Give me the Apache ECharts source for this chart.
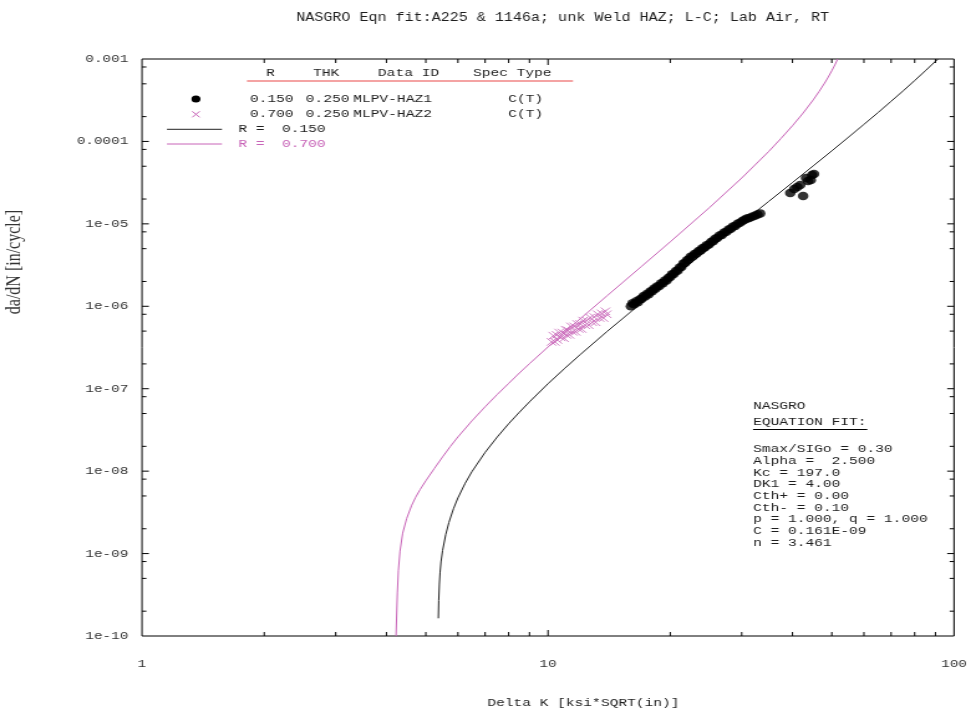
<!DOCTYPE html>
<html>
<head>
<meta charset="utf-8">
<script src="https://cdn.jsdelivr.net/npm/echarts@6/dist/echarts.min.js"></script>
<style>
  html, body { margin: 0; padding: 0; background: #fff; overflow: hidden; }
  /* the plot is laid out on a 780px canvas and widened to 971px, giving the stretched monospace look */
  #chart { width: 780px; height: 713px; transform: scaleX(1.244872); transform-origin: 0 0; }
</style>
</head>
<body>
<div id="chart"></div>
<script>
// ---- axis ranges and tick values ----
const X_MIN = 1, X_MAX = 100;
const Y_MIN = 1e-10, Y_MAX = 1e-3;
const xMajorTicks = [10];
const xMinorTicks = [2, 3, 4, 5, 6, 7, 8, 9, 20, 30, 40, 50, 60, 70, 80, 90];
const yMajorTicks = [1e-9, 1e-8, 1e-7, 1e-6, 1e-5, 1e-4];
const yMinorTicks = [2e-10, 5e-10, 8e-10, 2e-9, 5e-9, 8e-9, 2e-8, 5e-8, 8e-8,
  2e-7, 5e-7, 8e-7, 2e-6, 5e-6, 8e-6, 2e-5, 5e-5, 8e-5, 2e-4, 5e-4, 8e-4];

// ---- NASGRO fit curves ----
const fitR015DeltaK = [5.369, 5.38, 5.40, 5.42, 5.45, 5.5, 5.6, 5.7, 5.85, 6, 6.25, 6.5, 7, 7.5, 8, 8.5, 9,
  10, 11, 12, 14, 17, 20, 25, 30, 35, 40, 45, 50, 55, 60, 65, 70, 75, 80, 85, 90, 91.3];
const fitR015Rate = [1.64e-10, 2.7e-10, 4.27e-10, 5.83e-10, 7.91e-10, 1.09e-9, 1.71e-9, 2.38e-9, 3.50e-9,
  4.74e-9, 7.12e-9, 9.92e-9, 1.69e-8, 2.60e-8, 3.76e-8, 5.18e-8, 6.92e-8, 1.15e-7, 1.77e-7, 2.59e-7,
  4.98e-7, 1.10e-6, 2.11e-6, 5.07e-6, 1.03e-5, 1.88e-5, 3.17e-5, 5.05e-5, 7.68e-5, 1.13e-4, 1.61e-4,
  2.24e-4, 3.07e-4, 4.12e-4, 5.48e-4, 7.20e-4, 9.37e-4, 1.0e-3];

const fitR070DeltaK = [4.223, 4.255, 4.279, 4.32, 4.386, 4.487, 4.617, 4.72, 4.839, 5.0, 5.25, 5.5, 5.75,
  6, 6.5, 7, 7.5, 8, 8.5, 9, 10, 11, 12, 14, 17, 20, 25, 30, 35, 37.5, 40, 42.5, 45, 46.5, 48, 49, 50,
  51, 51.7];
const fitR070Rate = [1.0e-10, 3.33e-10, 6.18e-10, 1.07e-9, 1.77e-9, 2.67e-9, 3.86e-9, 4.82e-9, 5.96e-9,
  7.64e-9, 1.08e-8, 1.49e-8, 2.0e-8, 2.6e-8, 4.09e-8, 6.04e-8, 8.53e-8, 1.16e-7, 1.55e-7, 2.01e-7,
  3.21e-7, 4.86e-7, 7.05e-7, 1.35e-6, 3.05e-6, 6.05e-6, 1.58e-5, 3.60e-5, 7.59e-5, 1.09e-4, 1.55e-4,
  2.21e-4, 3.19e-4, 4.02e-4, 5.10e-4, 6.03e-4, 7.20e-4, 8.68e-4, 1.0e-3];

// ---- test data: MLPV-HAZ1 (R = 0.150) ----
const haz1DeltaK = [16.0, 16.15, 16.3, 16.5, 16.65, 16.85, 17.0, 17.2, 17.35, 17.55, 17.7, 17.9, 18.05,
  18.25, 18.4, 18.6, 18.8, 19.0, 19.2, 19.4, 19.6, 19.8, 20.0, 20.2, 20.4, 20.65, 20.85, 21.1, 21.3,
  21.55, 21.75, 22.0, 22.2, 22.45, 22.7, 22.95, 23.2, 23.5, 23.75, 24.0, 24.3, 24.6, 24.9, 25.2, 25.5,
  25.8, 26.1, 26.45, 26.8, 27.15, 27.5, 27.85, 28.2, 28.55, 28.9, 29.3, 29.7, 30.1, 30.5, 30.9, 31.3,
  31.8, 32.3, 32.8, 33.3, 39.5, 40.4, 41.1, 41.8, 42.5, 43.2, 43.7, 44.4, 44.7, 45.2];
const haz1Rate = [1.00e-6, 1.09e-6, 1.06e-6, 1.15e-6, 1.12e-6, 1.22e-6, 1.23e-6, 1.33e-6, 1.31e-6,
  1.42e-6, 1.40e-6, 1.52e-6, 1.52e-6, 1.64e-6, 1.63e-6, 1.75e-6, 1.76e-6, 1.90e-6, 1.91e-6, 2.06e-6,
  2.06e-6, 2.22e-6, 2.26e-6, 2.45e-6, 2.46e-6, 2.68e-6, 2.70e-6, 2.95e-6, 3.00e-6, 3.30e-6, 3.35e-6,
  3.62e-6, 3.70e-6, 3.98e-6, 4.02e-6, 4.30e-6, 4.38e-6, 4.70e-6, 4.75e-6, 5.05e-6, 5.15e-6, 5.52e-6,
  5.60e-6, 6.02e-6, 6.15e-6, 6.60e-6, 6.72e-6, 7.20e-6, 7.35e-6, 7.85e-6, 8.00e-6, 8.55e-6, 8.70e-6,
  9.30e-6, 9.45e-6, 1.00e-5, 1.03e-5, 1.08e-5, 1.12e-5, 1.16e-5, 1.18e-5, 1.22e-5, 1.25e-5, 1.30e-5,
  1.34e-5, 2.37e-5, 2.65e-5, 2.80e-5, 2.96e-5, 2.18e-5, 3.60e-5, 3.31e-5, 3.40e-5, 3.92e-5, 4.03e-5];

// ---- test data: MLPV-HAZ2 (R = 0.700) ----
const haz2DeltaK = [10.2, 10.3, 10.4, 10.5, 10.55, 10.65, 10.75, 10.85, 10.95, 11.05, 11.1, 11.2, 11.3,
  11.4, 11.5, 11.6, 11.7, 11.8, 11.9, 12.0, 12.1, 12.2, 12.35, 12.45, 12.6, 12.7, 12.85, 13.0, 13.1,
  13.25, 13.4, 13.55, 13.7, 13.85, 13.95];
const haz2Rate = [3.7e-7, 4.4e-7, 3.7e-7, 4.5e-7, 3.9e-7, 4.8e-7, 4.2e-7, 4.8e-7, 4.1e-7, 5.2e-7, 4.5e-7,
  5.1e-7, 4.5e-7, 5.7e-7, 4.9e-7, 5.7e-7, 4.9e-7, 6.1e-7, 5.3e-7, 6.1e-7, 5.3e-7, 6.7e-7, 5.9e-7, 6.7e-7,
  5.9e-7, 7.3e-7, 6.4e-7, 7.4e-7, 6.4e-7, 8.0e-7, 7.2e-7, 8.2e-7, 7.2e-7, 8.7e-7, 8.0e-7];

// ---- text blocks ----
const titleText = 'NASGRO Eqn fit:A225 & 1146a; unk Weld HAZ; L-C; Lab Air, RT';
const legendHeader = ['R', 'THK', 'Data ID', 'Spec Type'];
const legendRows = [
  ['0.150', '0.250', 'MLPV-HAZ1', 'C(T)'],
  ['0.700', '0.250', 'MLPV-HAZ2', 'C(T)']
];
const fitLabels = ['R =  0.150', 'R =  0.700'];
const fitNotes = ['Smax/SIGo = 0.30', 'Alpha =  2.500', 'Kc = 197.0', 'DK1 = 4.00', 'Cth+ = 0.00',
  'Cth- = 0.10', 'p = 1.000, q = 1.000', 'C = 0.161E-09', 'n = 3.461'];

const zip = (a, b) => a.map((v, i) => [v, b[i]]);

const MONO = '"Liberation Mono", "Courier New", monospace';
const INK = '#1e1e1e';
const PINK = '#c864b8';
const SALMON = '#f08585';

function monoText(x, y, text, color, size) {
  return { type: 'text', x: x, y: y, silent: true,
    style: { text: text, fill: color || INK, font: (size || 11.7) + 'px ' + MONO,
      align: 'left', verticalAlign: 'middle' } };
}

// inward tick marks on both opposite sides of the frame
function xTickSeries(values, len) {
  return {
    type: 'custom', silent: true, z: 5,
    data: values.map(v => [v, Y_MIN]),
    renderItem: function (params, api) {
      const v = api.value(0);
      const b = api.coord([v, Y_MIN]);
      const t = api.coord([v, Y_MAX]);
      const st = { stroke: '#000', lineWidth: 1 };
      return { type: 'group', children: [
        { type: 'line', shape: { x1: b[0], y1: b[1], x2: b[0], y2: b[1] - len }, style: st },
        { type: 'line', shape: { x1: t[0], y1: t[1], x2: t[0], y2: t[1] + len }, style: st }
      ] };
    }
  };
}
function yTickSeries(values, len) {
  return {
    type: 'custom', silent: true, z: 5,
    data: values.map(v => [X_MIN, v]),
    renderItem: function (params, api) {
      const v = api.value(1);
      const l = api.coord([X_MIN, v]);
      const r = api.coord([X_MAX, v]);
      const st = { stroke: '#000', lineWidth: 1 };
      return { type: 'group', children: [
        { type: 'line', shape: { x1: l[0], y1: l[1], x2: l[0] + len, y2: l[1] }, style: st },
        { type: 'line', shape: { x1: r[0], y1: r[1], x2: r[0] - len, y2: r[1] }, style: st }
      ] };
    }
  };
}

const chart = echarts.init(document.getElementById('chart'), null, { renderer: 'canvas' });

const graphics = [];
// legend table header
const headerX = [213.7, 251.4, 303.6, 380.0];
legendHeader.forEach((t, i) => graphics.push(monoText(headerX[i], 73, t)));
graphics.push({ type: 'line', silent: true, shape: { x1: 198.4, y1: 81, x2: 460.3, y2: 81 },
  style: { stroke: SALMON, lineWidth: 1.3 } });
// legend rows
const colX = [200.8, 245.6, 283.8, 408.3];
const rowY = [99, 114.3];
legendRows.forEach((row, r) => row.forEach((t, c) => graphics.push(monoText(colX[c], rowY[r], t))));
graphics.push({ type: 'circle', silent: true, shape: { cx: 157.4, cy: 99, r: 3.6 }, style: { fill: '#000' } });
graphics.push({ type: 'line', silent: true, shape: { x1: 154.4, y1: 111.3, x2: 160.4, y2: 117.3 }, style: { stroke: PINK, lineWidth: 1 } });
graphics.push({ type: 'line', silent: true, shape: { x1: 160.4, y1: 111.3, x2: 154.4, y2: 117.3 }, style: { stroke: PINK, lineWidth: 1 } });
graphics.push({ type: 'line', silent: true, shape: { x1: 134.1, y1: 129.3, x2: 178.3, y2: 129.3 }, style: { stroke: '#222', lineWidth: 1 } });
graphics.push({ type: 'line', silent: true, shape: { x1: 134.1, y1: 144, x2: 178.3, y2: 144 }, style: { stroke: PINK, lineWidth: 1 } });
graphics.push(monoText(191.4, 129.3, fitLabels[0]));
graphics.push(monoText(191.4, 144, fitLabels[1], PINK));
// equation-fit parameter block
graphics.push(monoText(604.9, 406, 'NASGRO'));
graphics.push(monoText(604.9, 422, 'EQUATION FIT:'));
graphics.push({ type: 'line', silent: true, shape: { x1: 604.9, y1: 429.5, x2: 696.7, y2: 429.5 }, style: { stroke: '#000', lineWidth: 1 } });
fitNotes.forEach((t, i) => graphics.push(monoText(604.9, 449.3 + i * 11.67, t)));
// axis titles
graphics.push({ type: 'text', silent: true, x: 468.6, y: 703,
  style: { text: 'Delta K [ksi*SQRT(in)]', fill: INK, font: '11.7px ' + MONO, align: 'center', verticalAlign: 'middle' } });
graphics.push({ type: 'text', silent: true, x: 12, y: 262, rotation: Math.PI / 2,
  style: { text: 'da/dN [in/cycle]', fill: '#333', font: '16px "Liberation Serif", serif', align: 'center', verticalAlign: 'middle' } });

const option = {
  animation: false,
  backgroundColor: '#fff',
  title: {
    text: titleText, left: 447, top: 7, textAlign: 'center',
    textStyle: { fontFamily: MONO, fontSize: 12.1, fontWeight: 'normal', color: INK }
  },
  grid: { left: 114.07, right: 13.65, top: 59, bottom: 77, show: true, borderColor: '#000', borderWidth: 1 },
  xAxis: {
    type: 'log', logBase: 10, min: X_MIN, max: X_MAX, splitNumber: 2,
    axisLine: { show: false }, axisTick: { show: false }, splitLine: { show: false },
    axisLabel: { fontFamily: MONO, fontSize: 11.5, color: '#333', margin: 22,
      showMinLabel: true, showMaxLabel: true,
      formatter: v => String(Math.round(v)) }
  },
  yAxis: {
    type: 'log', logBase: 10, min: Y_MIN, max: Y_MAX, splitNumber: 7,
    axisLine: { show: false }, axisTick: { show: false }, splitLine: { show: false },
    axisLabel: { fontFamily: MONO, fontSize: 11.5, color: '#333', margin: 11,
      showMinLabel: true, showMaxLabel: true,
      formatter: function (v) {
        const e = Math.round(Math.log10(v));
        return e >= -4 ? Math.pow(10, e).toFixed(-e) : '1e-' + String(-e).padStart(2, '0');
      } }
  },
  graphic: graphics,
  series: [
    xTickSeries(xMinorTicks, 4),
    xTickSeries(xMajorTicks, 6),
    yTickSeries(yMinorTicks, 3.5),
    yTickSeries(yMajorTicks, 5.5),
    {
      name: 'R = 0.150', type: 'line', data: zip(fitR015DeltaK, fitR015Rate), showSymbol: false,
      lineStyle: { color: '#222', width: 1 }, z: 3
    },
    {
      name: 'R = 0.700', type: 'line', data: zip(fitR070DeltaK, fitR070Rate), showSymbol: false,
      lineStyle: { color: PINK, width: 1 }, z: 3
    },
    {
      name: 'MLPV-HAZ2', type: 'scatter', data: zip(haz2DeltaK, haz2Rate),
      symbol: 'path://M0,0L10,10M10,0L0,10', symbolSize: 7.5,
      itemStyle: { color: 'none', borderColor: PINK, borderWidth: 1 }, z: 4
    },
    {
      name: 'MLPV-HAZ1', type: 'scatter', data: zip(haz1DeltaK, haz1Rate),
      symbol: 'circle', symbolSize: 8.5, itemStyle: { color: '#000' }, z: 4
    }
  ]
};
chart.setOption(option);
</script>
</body>
</html>
